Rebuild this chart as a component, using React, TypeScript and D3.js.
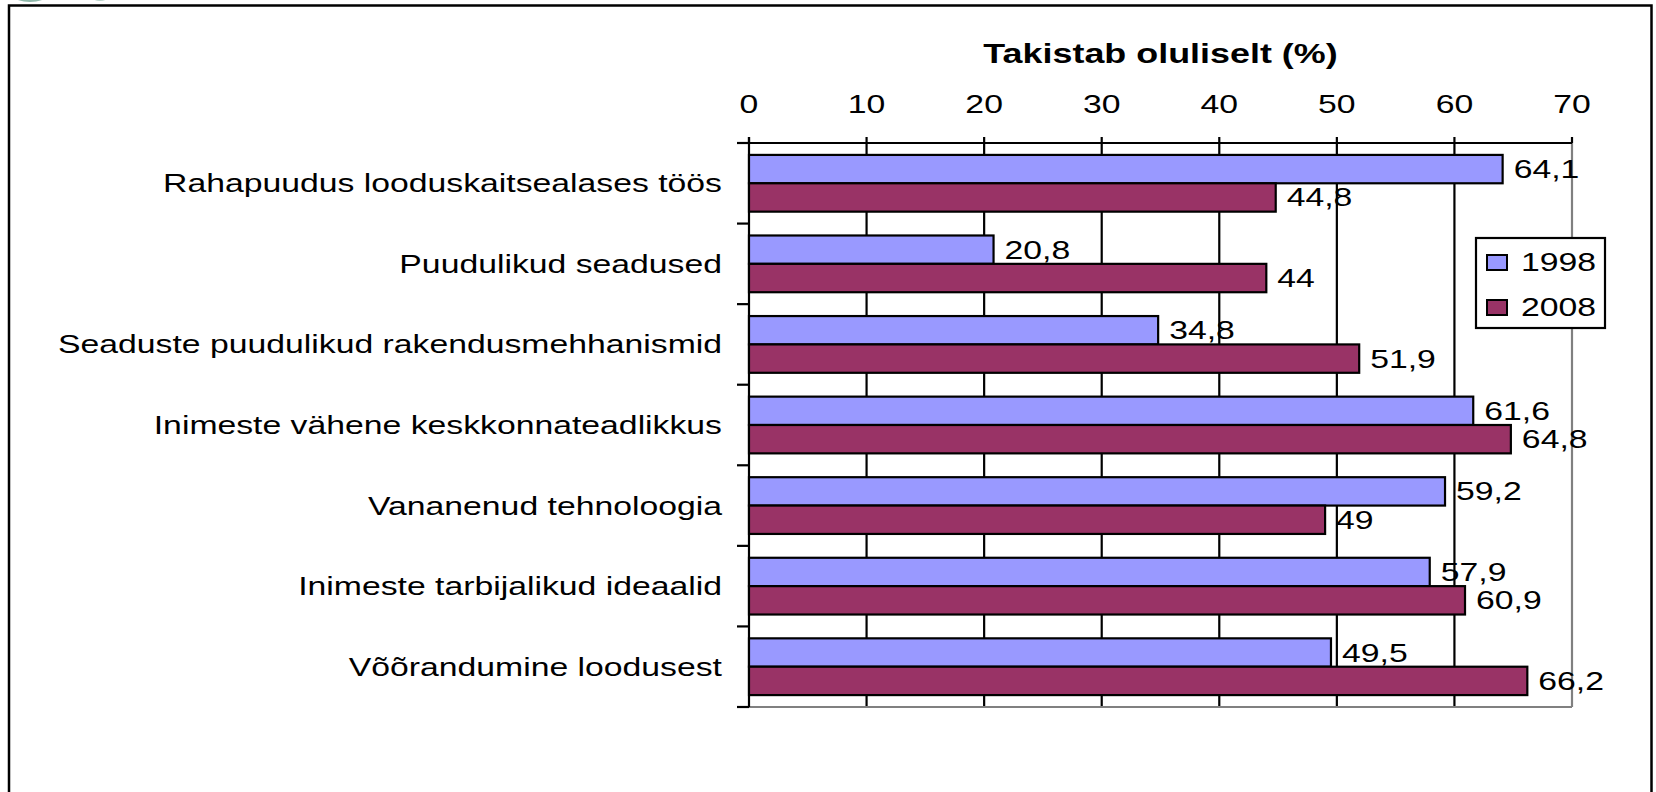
import * as d3 from "d3";
import React from "react";

const categories = [
  "Rahapuudus looduskaitsealases töös",
  "Puudulikud seadused",
  "Seaduste puudulikud rakendusmehhanismid",
  "Inimeste vähene keskkonnateadlikkus",
  "Vananenud tehnoloogia",
  "Inimeste tarbijalikud ideaalid",
  "Võõrandumine loodusest",
];
const seriesNames = ["1998", "2008"];
const values1998 = [64.1, 20.8, 34.8, 61.6, 59.2, 57.9, 49.5];
const values2008 = [44.8, 44, 51.9, 64.8, 49, 60.9, 66.2];
const xTicks = [0, 10, 20, 30, 40, 50, 60, 70];
const colors = ["#9999FF", "#993366"];
const title = "Takistab oluliselt (%)";

const width = 1656;
const height = 792;
const left = 749;
const right = 1572;
const top = 143;
const bottom = 707;
const font = "'Liberation Sans', Arial, sans-serif";
// the original picture is stretched sideways
const stretch = 1.35;

const fmt = (v: number) => String(v).replace(".", ",");

const App = () => {
  const x = d3.scaleLinear().domain([0, 70]).range([left, right]);
  const y = d3.scaleBand().domain(categories).range([top, bottom]);
  const ySub = d3
    .scaleBand()
    .domain(seriesNames)
    .range([0, y.bandwidth()])
    .paddingOuter(0.42);

  const series = [values1998, values2008];
  const boundaries = d3.range(categories.length + 1).map((i) => top + i * y.step());

  const txt = (tx: number, ty: number, s = stretch) => `translate(${tx},${ty}) scale(${s},1)`;

  return (
    <svg
      width={width}
      height={height}
      style={{ position: "absolute", left: 0, top: 0, background: "#fff" }}
      fontFamily={font}
    >
      {/* bit of a cut-off logo in the corner */}
      <ellipse cx={30} cy={-4} rx={16} ry={6} fill="#8fb8aa" />
      <ellipse cx={100} cy={-3} rx={8} ry={4} fill="#b7d2c8" />

      {/* outer frame */}
      <path
        d={`M9,${height + 5} V5.5 H1651.5 V${height + 5}`}
        fill="none"
        stroke="#000"
        strokeWidth={2.5}
      />

      <text
        transform={txt((left + right) / 2, 63, 1.33)}
        textAnchor="middle"
        fontSize={27}
        fontWeight="bold"
      >
        {title}
      </text>

      {xTicks.map((t) => (
        <text key={"tl" + t} transform={txt(x(t), 113)} textAnchor="middle" fontSize={25}>
          {t}
        </text>
      ))}

      {/* gridlines */}
      {xTicks.slice(1, -1).map((t) => (
        <line key={"g" + t} x1={x(t)} x2={x(t)} y1={top} y2={bottom} stroke="#000" strokeWidth={2.2} />
      ))}
      {/* plot border right / bottom */}
      <line x1={right} x2={right} y1={top} y2={bottom} stroke="#808080" strokeWidth={2.2} />
      <line x1={left} x2={right} y1={bottom} y2={bottom} stroke="#808080" strokeWidth={2.2} />

      {/* top axis */}
      <line x1={left} x2={right} y1={top} y2={top} stroke="#000" strokeWidth={2.2} />
      {xTicks.map((t) => (
        <line key={"tk" + t} x1={x(t)} x2={x(t)} y1={top - 6} y2={top} stroke="#000" strokeWidth={2.2} />
      ))}

      {/* category axis */}
      <line x1={left} x2={left} y1={top - 6} y2={bottom} stroke="#000" strokeWidth={2.2} />
      {boundaries.map((b, i) => (
        <line key={"yt" + i} x1={left - 12} x2={left} y1={b} y2={b} stroke="#000" strokeWidth={2.2} />
      ))}
      {categories.map((c) => (
        <text
          key={c}
          transform={txt(722, (y(c) as number) + y.bandwidth() / 2 + 9)}
          textAnchor="end"
          fontSize={25}
        >
          {c}
        </text>
      ))}

      {/* bars */}
      {series.map((vals, si) =>
        vals.map((v, i) => {
          const by = (y(categories[i]) as number) + (ySub(seriesNames[si]) as number);
          return (
            <rect
              key={`b${si}-${i}`}
              x={x(0)}
              y={by}
              width={x(v) - x(0)}
              height={ySub.bandwidth()}
              fill={colors[si]}
              stroke="#000"
              strokeWidth={2.2}
            />
          );
        })
      )}

      {/* value labels */}
      {series.map((vals, si) =>
        vals.map((v, i) => {
          const by = (y(categories[i]) as number) + (ySub(seriesNames[si]) as number);
          return (
            <text
              key={`l${si}-${i}`}
              transform={txt(x(v) + 11, by + ySub.bandwidth() / 2 + 9)}
              fontSize={25}
            >
              {fmt(v)}
            </text>
          );
        })
      )}

      {/* legend */}
      <rect x={1476} y={238} width={129} height={90} fill="#fff" stroke="#000" strokeWidth={2.2} />
      {seriesNames.map((s, i) => (
        <g key={s}>
          <rect
            x={1487}
            y={255 + i * 45}
            width={20}
            height={15}
            fill={colors[i]}
            stroke="#000"
            strokeWidth={2}
          />
          <text transform={txt(1521, 271 + i * 45)} fontSize={25}>
            {s}
          </text>
        </g>
      ))}
    </svg>
  );
};

export default App;
